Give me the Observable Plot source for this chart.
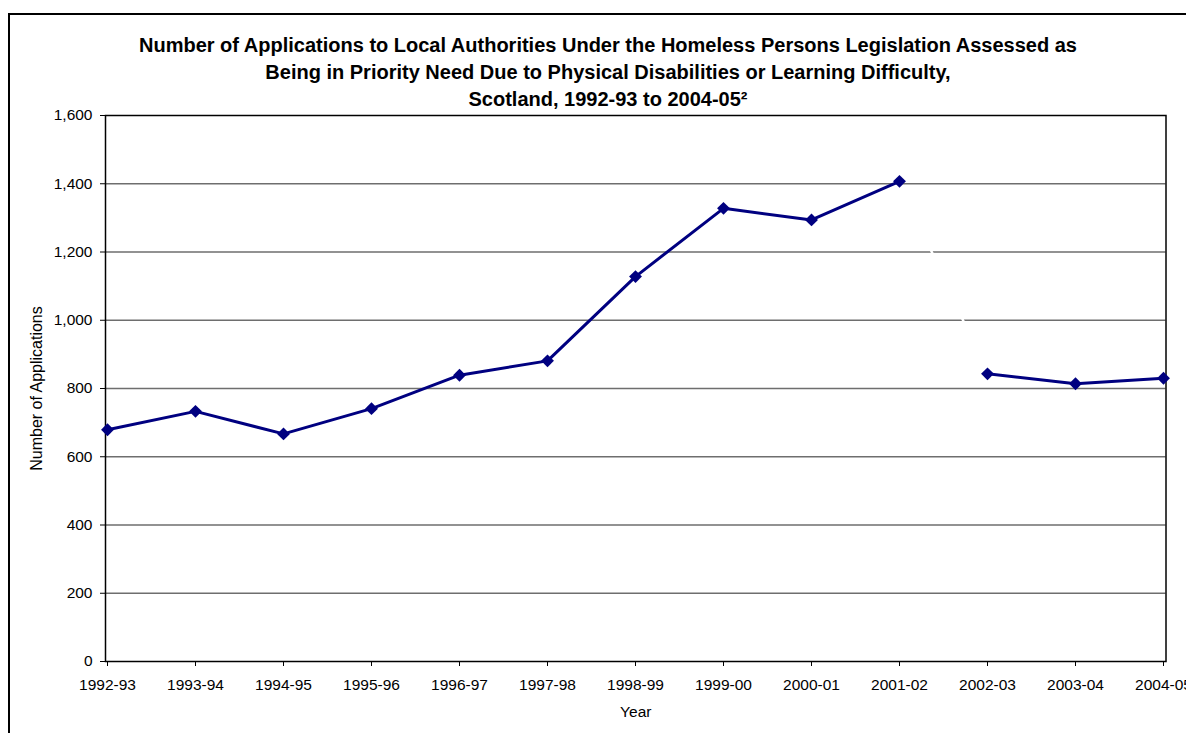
<!DOCTYPE html>
<html>
<head>
<meta charset="utf-8">
<script src="https://cdn.jsdelivr.net/npm/d3@7"></script>
<script src="https://cdn.jsdelivr.net/npm/@observablehq/plot@0.6"></script>
<style>
  html, body { margin: 0; padding: 0; background: #fff; overflow: hidden; }
  #wrap { position: relative; width: 1186px; height: 733px; overflow: hidden; }
  #border { position: absolute; left: 8px; top: 13px; width: 1250px; height: 800px; border: 2px solid #000; pointer-events: none; box-sizing: border-box; }
</style>
</head>
<body>
<div id="wrap"><div id="chart"></div><div id="border"></div></div>
<script>
const years = ["1992-93","1993-94","1994-95","1995-96","1996-97","1997-98","1998-99","1999-00","2000-01","2001-02","2002-03","2003-04","2004-05"];
const applications = [679, 733, 667, 741, 839, 881, 1128, 1328, 1294, 1407, 843, 814, 830];
const segment = [1,1,1,1,1,1,1,1,1,1,2,2,2];
const yTicks = [0, 200, 400, 600, 800, 1000, 1200, 1400, 1600];
const titleLines = [
  "Number of Applications to Local Authorities Under the Homeless Persons Legislation Assessed as",
  "Being in Priority Need Due to Physical Disabilities or Learning Difficulty,",
  "Scotland, 1992-93 to 2004-05\u00B2"
];
const xLabel = "Year";
const yLabel = "Number of Applications";

const data = years.map((y, i) => ({year: y, value: applications[i], seg: segment[i]}));
const bridge = data.slice(9, 11);

const chart = Plot.plot({
  width: 1186,
  height: 733,
  marginLeft: 105,
  marginRight: 20.5,
  marginTop: 115,
  marginBottom: 72,
  style: {fontFamily: "Arial, 'Liberation Sans', sans-serif", color: "#000", background: "transparent", overflow: "visible"},
  x: {type: "point", domain: years, padding: 0},
  y: {domain: [0, 1600]},
  marks: [
    Plot.ruleY(yTicks.slice(1, -1), {stroke: "#6e6e6e", strokeWidth: 1.3}),
    Plot.line(bridge, {x: "year", y: "value", stroke: "#fff", strokeWidth: 2.5}),
    Plot.frame({stroke: "#000", strokeWidth: 1.5}),
    Plot.axisY({ticks: yTicks, tickFormat: d3.format(","), tickSize: 5, tickPadding: 8, fontSize: 15.5, label: null}),
    Plot.axisX({tickSize: 5, tickPadding: 12, fontSize: 15.5, label: null}),
    Plot.text([xLabel], {text: d => d, frameAnchor: "bottom", dy: 51, lineAnchor: "middle", textAnchor: "middle", fontSize: 15.5}),
    Plot.text([yLabel], {text: d => d, frameAnchor: "left", dx: -69, rotate: -90, lineAnchor: "middle", textAnchor: "middle", fontSize: 16}),
    Plot.line(data, {x: "year", y: "value", z: "seg", stroke: "#000080", strokeWidth: 3}),
    Plot.dot(data, {x: "year", y: "value", symbol: "diamond2", r: 5.8, fill: "#000080", stroke: "none"}),
    Plot.text(titleLines, {
      text: d => d, frameAnchor: "top", fontWeight: "bold", fontSize: 20, className: "ttl"
    })
  ]
});

// lay out the three title lines
const titleTexts = chart.querySelectorAll(".ttl text");
const titleY = [45, 72, 99];
titleTexts.forEach((t, i) => {
  t.setAttribute("y", titleY[i]);
  t.setAttribute("dy", "0.35em");
  t.setAttribute("x", 608);
  t.removeAttribute("transform");
});
const ttlG = chart.querySelector(".ttl");
if (ttlG) ttlG.removeAttribute("transform");
document.getElementById("chart").appendChild(chart);
</script>
</body>
</html>
